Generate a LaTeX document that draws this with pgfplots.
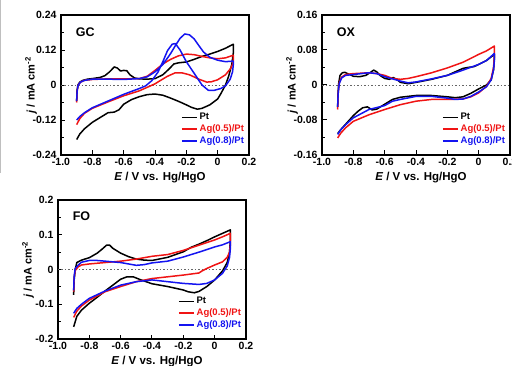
\documentclass[border=0pt]{standalone}
\usepackage{fontspec}
\setmainfont{Liberation Sans}
\usepackage{pgfplots}
\pgfplotsset{compat=1.18}
\definecolor{cvred}{RGB}{240,20,20}
\definecolor{cvblue}{RGB}{20,20,240}
\pgfplotsset{
  cv/.style={
    scale only axis, width=188pt, height=140pt, clip=false,
    xmin=-1, xmax=0.2,
    xtick={-1,-0.8,-0.6,-0.4,-0.2,0,0.2},
    xticklabels={-1.0,-0.8,-0.6,-0.4,-0.2,0,0.2},
    tick align=inside, xtick pos=bottom, ytick pos=left,
    axis line style={line width=1.2pt},
    major tick length=4.5pt, minor tick length=3pt,
    every tick/.style={black, line width=1pt},
    ticklabel style={font=\bfseries\fontsize{10.5}{12}\selectfont},
    xticklabel style={yshift=0pt},
    yticklabel style={xshift=-1pt},
    xlabel={\bfseries\fontsize{11.5}{13}\selectfont{\itshape E} / V vs. Hg/HgO},
    every axis x label/.style={at={(rel axis cs:0.5,0)}, anchor=center, yshift=-23pt, xshift=5pt},
    legend style={at={(rel axis cs:0.985,0.055)}, anchor=south east, draw=none, fill=none,
      font=\bfseries\fontsize{9.5}{10}\selectfont, row sep=-0.5pt, inner sep=0pt},
    legend cell align=left,
    legend image code/.code={\draw[#1] (0pt,0pt) -- (15pt,0pt);},
    every axis plot/.append style={line width=1.5pt, line join=round},
  }
}
\newcommand{\ylab}{\bfseries\fontsize{11}{13}\selectfont{\itshape j} / mA cm\textsuperscript{-2}}
\begin{document}
\begin{tikzpicture}
\useasboundingbox (0,0) rectangle (512pt,-366pt);
\clip (0,0) rectangle (512pt,-366pt);
\draw[gray!50, line width=0.8pt] (0.6pt,0) -- (0.6pt,-173pt);
% ---------------- GC ----------------
\begin{axis}[cv, at={(61pt,-155pt)}, anchor=south west,
  ymin=-0.24, ymax=0.24,
  ytick={-0.24,-0.12,0,0.12,0.24}, yticklabels={-0.24,-0.12,0,0.12,0.24},
  minor ytick={-0.18,-0.06,0.06,0.18}]
\addplot[black!60, dotted, line width=0.8pt, forget plot] coordinates {(-1,0) (0.2,0)};
\addplot[black] coordinates {
(-0.9,-0.055) (-0.898,-0.02) (-0.892,0.0) (-0.88,0.01) (-0.86,0.016) (-0.83,0.02) (-0.8,0.022) (-0.75,0.026) (-0.72,0.032) (-0.69,0.045) (-0.66,0.062) (-0.64,0.058) (-0.62,0.048) (-0.6,0.05) (-0.58,0.049) (-0.56,0.035) (-0.53,0.024) (-0.5,0.021) (-0.45,0.02) (-0.4,0.022) (-0.35,0.035) (-0.31,0.055) (-0.28,0.072) (-0.25,0.076) (-0.2,0.079) (-0.15,0.088) (-0.1,0.098) (-0.05,0.106) (0,0.115) (0.05,0.126) (0.1,0.14)
(0.1,0.11) (0.09,0.07) (0.07,0.03) (0.05,0.0) (0.02,-0.03) (0,-0.048) (-0.05,-0.068) (-0.1,-0.08) (-0.13,-0.083) (-0.17,-0.076) (-0.2,-0.068) (-0.25,-0.056) (-0.3,-0.045) (-0.35,-0.035) (-0.4,-0.031) (-0.45,-0.033) (-0.5,-0.04) (-0.55,-0.05) (-0.6,-0.066) (-0.63,-0.085) (-0.66,-0.093) (-0.7,-0.095) (-0.73,-0.105) (-0.77,-0.118) (-0.8,-0.128) (-0.85,-0.15) (-0.88,-0.168) (-0.9,-0.187)};
\addlegendentry{Pt}
\addplot[cvred] coordinates {
(-0.9,-0.06) (-0.897,-0.02) (-0.89,0.0) (-0.875,0.01) (-0.85,0.016) (-0.8,0.019) (-0.7,0.021) (-0.6,0.021) (-0.5,0.022) (-0.45,0.03) (-0.4,0.05) (-0.35,0.072) (-0.3,0.088) (-0.25,0.1) (-0.2,0.106) (-0.15,0.104) (-0.1,0.098) (-0.05,0.093) (0,0.09) (0.05,0.093) (0.1,0.102)
(0.1,0.085) (0.095,0.07) (0.08,0.055) (0.05,0.035) (0,0.018) (-0.04,0.011) (-0.07,0.01) (-0.12,0.02) (-0.18,0.035) (-0.23,0.042) (-0.27,0.042) (-0.32,0.03) (-0.37,0.014) (-0.4,0.004) (-0.45,-0.008) (-0.5,-0.02) (-0.6,-0.037) (-0.7,-0.058) (-0.8,-0.08) (-0.85,-0.097) (-0.88,-0.115) (-0.9,-0.136)};
\addlegendentry{\textcolor{cvred}{Ag(0.5)/Pt}}
\addplot[cvblue] coordinates {
(-0.9,-0.055) (-0.897,-0.02) (-0.89,0.0) (-0.875,0.01) (-0.85,0.016) (-0.8,0.02) (-0.7,0.02) (-0.6,0.019) (-0.5,0.022) (-0.45,0.028) (-0.4,0.045) (-0.35,0.07) (-0.3,0.108) (-0.27,0.135) (-0.24,0.16) (-0.21,0.175) (-0.18,0.172) (-0.15,0.158) (-0.12,0.135) (-0.09,0.113) (-0.05,0.095) (0,0.085) (0.05,0.08) (0.1,0.082)
(0.1,0.07) (0.095,0.045) (0.08,0.02) (0.05,-0.003) (0.02,-0.012) (-0.02,-0.018) (-0.06,-0.018) (-0.1,0.0) (-0.15,0.04) (-0.2,0.08) (-0.24,0.12) (-0.27,0.142) (-0.29,0.14) (-0.32,0.118) (-0.35,0.08) (-0.38,0.045) (-0.42,0.015) (-0.46,-0.003) (-0.5,-0.012) (-0.6,-0.032) (-0.7,-0.055) (-0.8,-0.078) (-0.85,-0.095) (-0.88,-0.108) (-0.9,-0.12)};
\addlegendentry{\textcolor{cvblue}{Ag(0.8)/Pt}}
\node[anchor=west, font=\bfseries\fontsize{12.5}{13}\selectfont] at (rel axis cs:0.06,0.88) {GC};
\node[rotate=90, anchor=center] at ([xshift=-30pt]rel axis cs:0,0.5) {\ylab};
\end{axis}
% ---------------- OX ----------------
\begin{axis}[cv, at={(322pt,-155pt)}, anchor=south west,
  ymin=-0.16, ymax=0.16,
  ytick={-0.16,-0.08,0,0.08,0.16}, yticklabels={-0.16,-0.08,0,0.08,0.16},
  minor ytick={-0.12,-0.04,0.04,0.12}]
\addplot[black!60, dotted, line width=0.8pt, forget plot] coordinates {(-1,0) (0.2,0)};
\addplot[black] coordinates {
(-0.9,-0.05) (-0.898,-0.02) (-0.893,0.005) (-0.885,0.022) (-0.87,0.028) (-0.855,0.029) (-0.83,0.025) (-0.8,0.02) (-0.76,0.019) (-0.72,0.022) (-0.69,0.029) (-0.67,0.034) (-0.65,0.03) (-0.63,0.022) (-0.6,0.015) (-0.57,0.013) (-0.545,0.017) (-0.52,0.012) (-0.5,0.006) (-0.45,0.003) (-0.4,0.006) (-0.3,0.013) (-0.2,0.022) (-0.15,0.03) (-0.1,0.038) (-0.07,0.04) (-0.03,0.042) (0,0.047) (0.05,0.056) (0.1,0.07)
(0.1,0.06) (0.095,0.035) (0.08,0.012) (0.05,0.0) (0,-0.009) (-0.05,-0.019) (-0.1,-0.027) (-0.15,-0.029) (-0.2,-0.027) (-0.3,-0.024) (-0.4,-0.024) (-0.5,-0.028) (-0.55,-0.033) (-0.6,-0.044) (-0.65,-0.055) (-0.68,-0.057) (-0.71,-0.05) (-0.74,-0.052) (-0.77,-0.06) (-0.8,-0.07) (-0.85,-0.09) (-0.88,-0.102) (-0.9,-0.111)};
\addlegendentry{Pt}
\addplot[cvred] coordinates {
(-0.9,-0.056) (-0.897,-0.02) (-0.89,0.005) (-0.875,0.018) (-0.85,0.024) (-0.8,0.026) (-0.75,0.027) (-0.7,0.028) (-0.65,0.026) (-0.6,0.022) (-0.55,0.015) (-0.5,0.013) (-0.45,0.015) (-0.4,0.019) (-0.3,0.028) (-0.2,0.039) (-0.1,0.052) (0,0.07) (0.05,0.078) (0.1,0.089)
(0.1,0.065) (0.095,0.04) (0.08,0.015) (0.05,-0.003) (0,-0.018) (-0.05,-0.027) (-0.1,-0.032) (-0.2,-0.033) (-0.3,-0.033) (-0.4,-0.037) (-0.5,-0.045) (-0.6,-0.056) (-0.7,-0.068) (-0.8,-0.083) (-0.85,-0.098) (-0.88,-0.11) (-0.9,-0.121)};
\addlegendentry{\textcolor{cvred}{Ag(0.5)/Pt}}
\addplot[cvblue] coordinates {
(-0.9,-0.05) (-0.897,-0.02) (-0.89,0.003) (-0.875,0.016) (-0.85,0.022) (-0.8,0.024) (-0.75,0.026) (-0.7,0.028) (-0.65,0.026) (-0.6,0.019) (-0.55,0.014) (-0.5,0.009) (-0.45,0.005) (-0.4,0.007) (-0.3,0.014) (-0.2,0.022) (-0.1,0.034) (0,0.047) (0.05,0.056) (0.1,0.072)
(0.1,0.055) (0.095,0.035) (0.08,0.012) (0.05,-0.004) (0,-0.016) (-0.05,-0.026) (-0.1,-0.032) (-0.15,-0.033) (-0.2,-0.03) (-0.3,-0.026) (-0.4,-0.026) (-0.5,-0.033) (-0.55,-0.037) (-0.6,-0.047) (-0.7,-0.056) (-0.8,-0.075) (-0.85,-0.091) (-0.88,-0.102) (-0.9,-0.113)};
\addlegendentry{\textcolor{cvblue}{Ag(0.8)/Pt}}
\node[anchor=west, font=\bfseries\fontsize{12.5}{13}\selectfont] at (rel axis cs:0.06,0.88) {OX};
\node[rotate=90, anchor=center] at ([xshift=-30pt]rel axis cs:0,0.5) {\ylab};
\end{axis}
% ---------------- FO ----------------
\begin{axis}[cv, at={(58pt,-339pt)}, anchor=south west, height=139pt,
  ymin=-0.2, ymax=0.2,
  ytick={-0.2,-0.1,0,0.1,0.2}, yticklabels={-0.2,-0.1,0,0.1,0.2},
  minor ytick={-0.15,-0.05,0.05,0.15}]
\addplot[black!60, dotted, line width=0.8pt, forget plot] coordinates {(-1,0) (0.2,0)};
\addplot[black] coordinates {
(-0.9,-0.073) (-0.897,-0.03) (-0.89,0.0) (-0.88,0.02) (-0.85,0.027) (-0.8,0.034) (-0.75,0.047) (-0.72,0.058) (-0.69,0.07) (-0.67,0.07) (-0.65,0.061) (-0.6,0.047) (-0.55,0.037) (-0.5,0.03) (-0.45,0.027) (-0.4,0.026) (-0.3,0.035) (-0.2,0.051) (-0.15,0.064) (-0.1,0.073) (-0.05,0.083) (0,0.094) (0.05,0.104) (0.1,0.114)
(0.1,0.085) (0.095,0.05) (0.08,0.02) (0.05,-0.004) (0,-0.03) (-0.05,-0.049) (-0.1,-0.063) (-0.13,-0.067) (-0.17,-0.064) (-0.2,-0.059) (-0.3,-0.049) (-0.4,-0.041) (-0.47,-0.03) (-0.52,-0.021) (-0.56,-0.021) (-0.6,-0.028) (-0.65,-0.045) (-0.7,-0.062) (-0.75,-0.08) (-0.8,-0.097) (-0.85,-0.117) (-0.88,-0.135) (-0.9,-0.165)};
\addlegendentry{Pt}
\addplot[cvred] coordinates {
(-0.9,-0.064) (-0.897,-0.025) (-0.89,-0.003) (-0.87,0.008) (-0.85,0.013) (-0.8,0.016) (-0.7,0.02) (-0.6,0.024) (-0.5,0.03) (-0.4,0.038) (-0.3,0.043) (-0.2,0.055) (-0.1,0.07) (0,0.085) (0.05,0.094) (0.1,0.104)
(0.1,0.07) (0.095,0.05) (0.08,0.035) (0.05,0.022) (0,0.013) (-0.05,0.003) (-0.08,-0.004) (-0.1,-0.01) (-0.2,-0.016) (-0.3,-0.021) (-0.4,-0.026) (-0.5,-0.035) (-0.6,-0.049) (-0.7,-0.064) (-0.8,-0.088) (-0.85,-0.105) (-0.88,-0.12) (-0.9,-0.138)};
\addlegendentry{\textcolor{cvred}{Ag(0.5)/Pt}}
\addplot[cvblue] coordinates {
(-0.9,-0.06) (-0.897,-0.02) (-0.89,0.003) (-0.87,0.013) (-0.85,0.021) (-0.8,0.026) (-0.75,0.026) (-0.7,0.024) (-0.6,0.02) (-0.5,0.012) (-0.45,0.014) (-0.4,0.019) (-0.3,0.024) (-0.2,0.036) (-0.1,0.05) (0,0.065) (0.05,0.071) (0.1,0.08)
(0.1,0.06) (0.095,0.035) (0.08,0.01) (0.05,-0.011) (0,-0.03) (-0.05,-0.04) (-0.1,-0.043) (-0.2,-0.04) (-0.3,-0.035) (-0.4,-0.03) (-0.5,-0.035) (-0.6,-0.045) (-0.7,-0.062) (-0.8,-0.083) (-0.85,-0.1) (-0.88,-0.112) (-0.9,-0.126)};
\addlegendentry{\textcolor{cvblue}{Ag(0.8)/Pt}}
\node[anchor=west, font=\bfseries\fontsize{12.5}{13}\selectfont] at (rel axis cs:0.06,0.88) {FO};
\node[rotate=90, anchor=center] at ([xshift=-30pt]rel axis cs:0,0.5) {\ylab};
\end{axis}
\end{tikzpicture}
\end{document}
